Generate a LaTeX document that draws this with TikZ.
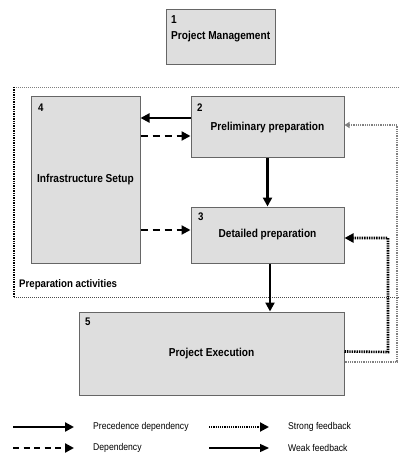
\documentclass[tikz,border=0pt]{standalone}
\usepackage{fontspec}
\setmainfont{Liberation Sans}[FakeStretch=0.88]
\usetikzlibrary{arrows.meta}
\definecolor{boxfill}{HTML}{DEDEDE}
\definecolor{boxline}{HTML}{666666}
\tikzset{
  box/.style={draw=boxline, line width=1pt, fill=boxfill, inner sep=0pt, font=\fontsize{11.5}{13}\selectfont\bfseries},
  num/.style={anchor=north west, inner sep=0pt, font=\fontsize{11}{12}\selectfont\bfseries},
  prec/.style={line width=2.2pt, -{Triangle[length=9pt, width=9pt]}},
  dep/.style={line width=2.2pt, dash pattern=on 7pt off 5pt, -{Triangle[length=9pt, width=9pt]}},
  strong/.style={line width=2.6pt, dash pattern=on 1.4pt off 1pt, -{Triangle[length=9pt, width=9pt]}},
  weak/.style={gray, line width=1.4pt, dash pattern=on 1pt off 0.8pt, -{Triangle[length=5pt, width=6pt]}},
  weakleg/.style={line width=1.3pt, -{Triangle[length=9pt, width=8pt]}},
  strongleg/.style={line width=2pt, dash pattern=on 1.2pt off 1pt, -{Triangle[length=9pt, width=9pt]}},
  legtext/.style={anchor=west, inner sep=0pt, font=\fontsize{9.8}{11}\selectfont},
}
\begin{document}
\begin{tikzpicture}[x=1pt, y=-1pt]
\useasboundingbox (0,0) rectangle (399,454);
% frame of preparation activities
\draw[gray, line width=0.9pt, dash pattern=on 1pt off 1pt] (399,87) -- (14,87);
\draw[line width=1.6pt, dash pattern=on 1.4pt off 1pt] (14,87) -- (14,297);
\draw[gray!60!black, line width=0.9pt, dash pattern=on 1pt off 1pt] (14,297) -- (399,297);
\node[legtext, font=\fontsize{11}{12}\selectfont\bfseries] (prep) at (19,285) {Preparation activities};

% boxes
\node[box, minimum width=109pt, minimum height=55pt] (n1) at (220.5,37.5) {};
\node[num, align=left, font=\fontsize{11.5}{14}\selectfont\bfseries] (t1) at (171,15) {1\\[2pt]Project Management};
\node[box, minimum width=109pt, minimum height=166pt] (n4) at (85.5,180) {Infrastructure Setup};
\node[num] (l4) at (38,104) {4};
\node[box, minimum width=153pt, minimum height=61pt] (n2) at (267.5,127.5) {Preliminary preparation};
\node[num] (l2) at (197,104) {2};
\node[box, minimum width=153pt, minimum height=56pt] (n3) at (267.5,235) {Detailed preparation};
\node[num] (l3) at (198,213) {3};
\node[box, minimum width=265pt, minimum height=83pt] (n5) at (211.5,353.5) {Project Execution};
\node[num] (l5) at (85,318) {5};

% connectors
\draw[prec] ([yshift=9.5pt]n2.west) -- ([yshift=9.5pt]n2.west -| n4.east);
\coordinate (a42) at ([yshift=-8.5pt]n2.west);
\draw[dep] (n4.east |- a42) -- (a42);
\coordinate (a43) at ([yshift=5pt]n3.west);
\draw[dep] (n4.east |- a43) -- (a43);
\draw[prec] (n2.south) -- (n3.north);
\coordinate (s35) at ([xshift=2.5pt]n3.south);
\draw[prec] (s35) -- (s35 |- n5.north);
\coordinate (sf1) at ([yshift=2pt]n5.east);
\coordinate (sf2) at ([yshift=-3pt]n3.east);
\draw[strong] (sf1) -- (388,352) -- (388,238) -- (sf2);
\coordinate (wf1) at ([yshift=-8.5pt]n5.east);
\coordinate (wf2) at ([yshift=2.5pt]n2.east);
\draw[weak] (wf1) -- (397,362) -- (397,125) -- (wf2);

% legend
\coordinate (p1) at (13,427); \coordinate (p2) at (74,427);
\coordinate (d1) at (13,448); \coordinate (d2) at (74,448);
\coordinate (s1) at (209,427); \coordinate (s2) at (269,427);
\coordinate (w1) at (209,448); \coordinate (w2) at (269,448);
\draw[prec] (p1) -- (p2);
\draw[dep, dash pattern=on 6pt off 4.5pt] (d1) -- (d2);
\draw[strongleg] (s1) -- (s2);
\draw[weakleg] (w1) -- (w2);
\node[legtext] (lp) at (93,427) {Precedence dependency};
\node[legtext] (ld) at (93,448) {Dependency};
\node[legtext] (ls) at (288,427) {Strong feedback};
\node[legtext] (lw) at (288,448) {Weak feedback};
\end{tikzpicture}
\end{document}
